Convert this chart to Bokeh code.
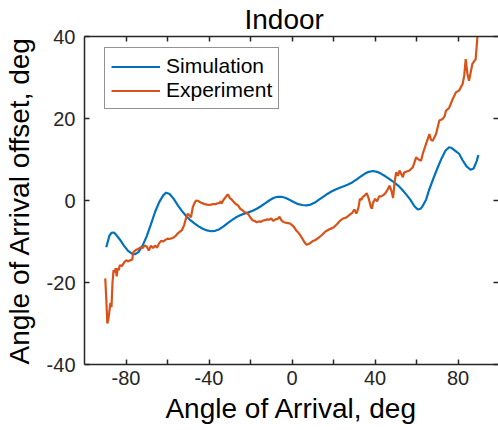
from bokeh.plotting import figure
from bokeh.models import Range1d, FixedTicker, LinearAxis
from bokeh.embed import file_html
from bokeh.resources import INLINE

# ---------------- data ----------------
title_text = "Indoor"
x_label = "Angle of Arrival, deg"
y_label = "Angle of Arrival offset, deg"
series_names = ["Simulation", "Experiment"]

sim_x = [-89.5, -88, -87, -86, -85, -83, -81, -79, -77, -75.7, -74, -72, -70, -68, -66, -64, -62,
         -60.6, -59, -57, -55, -53, -51, -49, -47, -45, -43, -41, -39, -37, -35, -33, -31, -29,
         -27, -25, -23, -21, -19, -17, -15, -13, -11, -9, -7, -5, -3, -1, 1, 3, 5, 7, 9, 11, 13,
         15, 17, 19, 21, 23, 25, 27, 29, 31, 33, 35, 37, 39, 41, 43, 45, 47, 49, 51, 53, 55, 57,
         59, 60.6, 62, 63, 64.6, 66, 68, 70, 72, 74, 75.7, 77, 79, 80.5, 82, 84, 86, 87.5, 89, 89.8]
sim_y = [-11.4, -8.6, -7.9, -7.8, -8.2, -9.5, -11.0, -12.3, -13.0, -13.1, -12.6, -11.0, -8.7,
         -5.8, -2.8, -0.4, 1.3, 1.9, 1.6, 0.4, -1.2, -2.6, -3.8, -4.8, -5.6, -6.3, -6.9, -7.3,
         -7.5, -7.4, -7.0, -6.3, -5.5, -4.8, -4.1, -3.6, -3.2, -2.9, -2.5, -2.0, -1.4, -0.7, 0.0,
         0.6, 0.9, 0.9, 0.6, 0.1, -0.4, -0.9, -1.1, -1.2, -1.0, -0.5, 0.2, 0.9, 1.6, 2.2, 2.7,
         3.1, 3.5, 3.9, 4.4, 5.1, 5.8, 6.5, 7.0, 7.2, 7.0, 6.5, 5.9, 5.2, 4.5, 3.7, 2.7, 1.5,
         0.2, -1.4, -2.2, -2.0, -1.3, 0.2, 2.5, 5.2, 7.8, 10.2, 12.2, 13.0, 12.8, 12.0, 11.4,
         10.0, 8.4, 7.5, 7.8, 9.6, 11.1]

exp_x = [-90, -89.5, -89, -88.5, -88, -87.5, -87, -86.5, -86, -85.5, -85, -84.5, -84, -83.5,
         -83, -82, -81, -80, -79, -78, -77, -76.5, -75, -74, -73, -72, -71, -70, -69, -68, -67,
         -66, -65, -64, -63, -62, -61, -60, -59, -58, -57, -56, -55, -54, -53, -52, -51, -50.2,
         -48.7, -47.8, -46.6, -46, -45, -44, -43, -42, -41, -40, -39, -38, -37, -36, -35, -34.3,
         -34, -33, -32, -31, -30.5, -30, -29, -28, -27, -26, -25, -24, -23, -22, -21, -20, -19,
         -18, -17, -16, -15, -14, -13, -12, -11, -10, -9, -8, -7, -6, -5, -4, -3, -2, -1, 0, 1,
         2, 3, 4, 5, 6, 7, 8, 9, 10, 11, 12, 13, 14, 15, 16, 17, 18, 19, 20, 21, 22, 23, 24, 25,
         26, 27, 28, 29, 30, 31, 32, 32.7, 33.5, 34, 35, 36, 37, 38, 38.5, 39, 40, 41, 42, 43,
         44, 45, 46, 47, 48, 48.7, 49.5, 50.2, 51, 51.8, 52.5, 53.4, 54, 55, 56.6, 58.2, 59.8,
         61, 62.2, 63, 64.6, 66.2, 67, 67.8, 69.4, 71, 72.6, 73.5, 74.2, 75.7, 77.4, 79, 80.5,
         82.2, 83, 83.7, 84.5, 85.3, 86.9, 88.5, 89.3, 89.8]
exp_y = [-19, -24, -30, -29, -27, -25, -26, -20, -17, -17.5, -16.5, -18.5, -16.5, -17, -15.8,
         -16, -15.2, -14.6, -14.8, -14.6, -14.4, -12.6, -12, -11.8, -11.4, -11.6, -11, -11.2,
         -12.2, -11.0, -11.6, -11.0, -11.5, -10.4, -9.8, -10, -9.6, -9.3, -9.4, -9.2, -9, -8.6,
         -8.0, -7.6, -7.2, -6.0, -4.2, -3.2, -4.1, -1.6, -0.2, 0, -0.2, -0.5, -0.7, -0.9, -1.0,
         -1.1, -1.0, -0.9, -0.9, -0.7, -0.6, -0.2, -0.8, 0.2, 0.8, 1.5, 1.2, 0.6, 0.2, -0.4,
         -0.9, -1.2, -2.0, -2.3, -2.8, -3.0, -3.4, -4.2, -4.8, -5.0, -5.3, -5.1, -5.2, -4.9,
         -4.8, -4.6, -4.7, -4.4, -5.0, -4.6, -4.5, -4.0, -4.9, -5.3, -5.4, -5.5, -5.6, -6.0,
         -6.5, -7.3, -7.8, -8.5, -9.3, -10.2, -10.8, -10.6, -10.3, -9.9, -9.7, -9.4, -9.0, -8.6,
         -8.1, -7.6, -7.3, -7.0, -6.8, -6.6, -6.1, -5.6, -5.0, -4.6, -4.3, -4.2, -3.8, -3.4,
         -3.0, -2.2, -3.2, -1.8, 0.4, 0.2, 0.8, 1.2, 1.8, 0.4, -1.6, -2.0, -0.6, 0.4, -0.2, 1.0,
         1.0, 1.3, 1.8, 2.6, 3.6, 2.2, 0.6, 4.8, 6.9, 6.0, 7.3, 6.6, 5.7, 6.8, 7.0, 7.3, 8.1,
         10.5, 10.0, 9.7, 11.4, 13.8, 16.2, 14.8, 14.6, 16.2, 19.5, 19.9, 20.5, 21.9, 22.6,
         24.7, 26.4, 26.8, 28.4, 30.5, 34.5, 31, 29.2, 33.3, 34.5, 39.7, 41]

x_ticks = [-80, -60, -40, -20, 0, 20, 40, 60, 80]
x_tick_labels = {-80: "-80", -60: "", -40: "-40", -20: "", 0: "0", 20: "", 40: "40", 60: "", 80: "80"}
y_ticks = [-40, -20, 0, 20, 40]
y_tick_labels = {-40: "-40", -20: "-20", 0: "0", 20: "20", 40: "40"}

# ---------------- figure ----------------
FONT = "Liberation Sans"
DARK = "#262626"
BLUE = "#0072BD"
ORANGE = "#D95319"

p = figure(width=498, height=430, output_backend="svg", toolbar_location=None,
           x_range=Range1d(-100, 99.5), y_range=Range1d(-40, 40),
           min_border_left=81, min_border_right=0, min_border_top=35, min_border_bottom=66,
           x_axis_type=None, y_axis_type=None)
p.outline_line_color = None
p.background_fill_color = "white"
p.border_fill_color = "white"

p.title.text = title_text
p.title.text_font = FONT
p.title.text_font_size = "28px"
p.title.text_font_style = "normal"
p.title.text_color = "black"
p.title.align = "left"
p.title.offset = 160
p.title.standoff = 3


def style_axis(ax, line=True):
    ax.axis_line_color = DARK if line else None
    ax.axis_line_width = 1.5
    ax.major_tick_line_color = DARK
    ax.major_tick_line_width = 1.5
    ax.major_tick_in = 5
    ax.major_tick_out = 0
    ax.minor_tick_line_color = None
    ax.major_label_text_font = FONT
    ax.major_label_text_color = DARK
    ax.major_label_text_font_size = "20px"
    ax.axis_label_text_font = FONT
    ax.axis_label_text_font_size = "28px"
    ax.axis_label_text_font_style = "normal"
    ax.axis_label_text_color = "black"


xb = LinearAxis(ticker=FixedTicker(ticks=x_ticks), major_label_overrides=x_tick_labels,
                axis_label=x_label)
style_axis(xb)
xb.major_label_standoff = 6
xb.axis_label_standoff = 5
p.add_layout(xb, "below")

xt = LinearAxis(ticker=FixedTicker(ticks=x_ticks),
                major_label_overrides={t: "" for t in x_ticks})
style_axis(xt)
xt.major_label_standoff = 0
p.add_layout(xt, "above")

yl = LinearAxis(ticker=FixedTicker(ticks=y_ticks), major_label_overrides=y_tick_labels,
                axis_label=y_label)
style_axis(yl)
yl.major_label_standoff = 9
yl.axis_label_standoff = 9
p.add_layout(yl, "left")

yr = LinearAxis(ticker=FixedTicker(ticks=y_ticks),
                major_label_overrides={t: "" for t in y_ticks})
style_axis(yr, line=False)
yr.major_label_standoff = 0
p.add_layout(yr, "right")

p.xgrid.ticker = FixedTicker(ticks=x_ticks)
p.ygrid.ticker = FixedTicker(ticks=y_ticks)
p.xgrid.grid_line_color = "#dedede"
p.ygrid.grid_line_color = "#dedede"
p.xgrid.grid_line_width = 2
p.ygrid.grid_line_width = 2

p.line(sim_x, sim_y, line_color=BLUE, line_width=2.2, legend_label=series_names[0])
p.line(exp_x, exp_y, line_color=ORANGE, line_width=2.2, legend_label=series_names[1])

lg = p.legend[0]
lg.location = (20, 255)
lg.label_text_font = FONT
lg.label_text_font_size = "21px"
lg.label_text_color = "black"
lg.glyph_width = 49
lg.glyph_height = 23
lg.label_height = 23
lg.label_standoff = 6
lg.padding = 6
lg.spacing = 0
lg.margin = 0
lg.border_line_color = DARK
lg.border_line_width = 1.5
lg.background_fill_color = "white"
lg.background_fill_alpha = 1

open("out.html", "w").write(file_html(p, INLINE))
